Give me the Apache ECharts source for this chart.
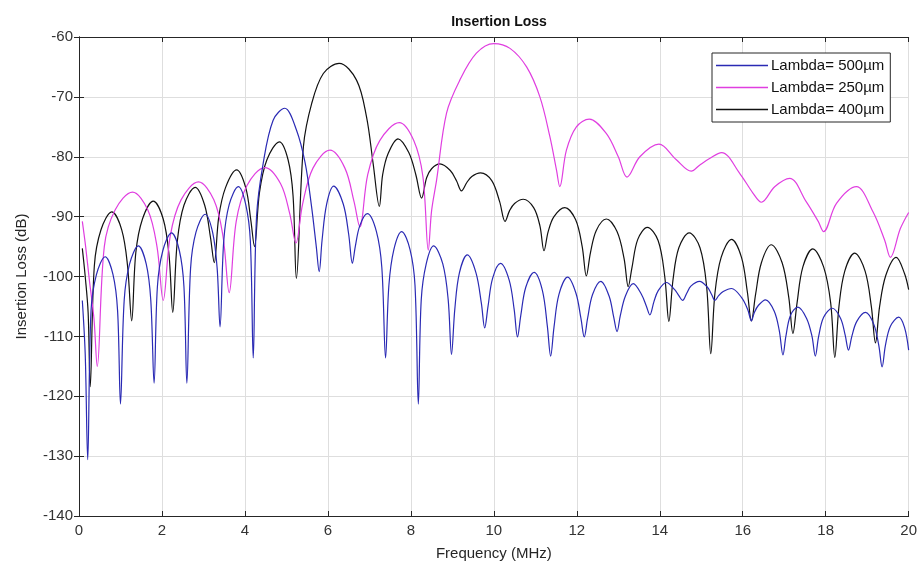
<!DOCTYPE html>
<html><head><meta charset="utf-8">
<script src="https://cdn.jsdelivr.net/npm/echarts@6/dist/echarts.min.js"></script>
<style>html,body{margin:0;padding:0;background:#fff}#c{width:920px;height:572px}</style>
</head><body><div id="c"></div>
<script>
// Frequency (MHz) / Insertion Loss (dB) readings, Lambda = 500um (blue)
var blueFreq = [0.08,0.15,0.21,0.29,0.42,0.63,0.82,0.93,1.00,1.09,1.22,1.43,1.62,1.73,1.81,1.89,2.02,2.23,2.42,2.53,2.60,2.69,2.82,3.04,3.22,3.33,3.40,3.49,3.62,3.84,4.02,4.13,4.20,4.28,4.44,4.68,4.96,5.24,5.45,5.60,5.72,5.79,5.86,5.97,6.14,6.37,6.50,6.59,6.66,6.77,6.95,7.17,7.30,7.39,7.47,7.59,7.78,7.98,8.10,8.18,8.25,8.37,8.55,8.77,8.90,8.98,9.06,9.17,9.36,9.57,9.70,9.78,9.86,9.97,10.16,10.37,10.49,10.57,10.65,10.77,10.97,11.17,11.29,11.37,11.45,11.57,11.78,11.98,12.10,12.18,12.26,12.38,12.58,12.78,12.89,12.97,13.05,13.17,13.36,13.56,13.68,13.76,13.86,13.96,14.16,14.36,14.46,14.55,14.65,14.75,14.96,15.15,15.25,15.33,15.42,15.53,15.73,15.97,16.12,16.21,16.28,16.38,16.55,16.76,16.88,16.97,17.04,17.15,17.33,17.54,17.67,17.75,17.83,17.95,18.16,18.36,18.47,18.55,18.63,18.75,18.96,19.16,19.28,19.36,19.44,19.56,19.76,19.90,20.0];
var blueLoss = [-104,-113,-130.6,-105.7,-99.7,-96.7,-99.7,-105.7,-121.3,-103.9,-97.9,-94.9,-97.9,-103.9,-117.8,-101.7,-95.7,-92.7,-95.7,-101.7,-117.8,-98.6,-92.6,-89.6,-92.6,-98.6,-108.4,-94.0,-88.0,-85.0,-88.0,-94.0,-113.6,-90,-81.1,-73.9,-71.9,-75.5,-81,-88,-95,-99.2,-93.9,-87.9,-84.9,-87.9,-92.9,-97.8,-95,-91.5,-89.5,-92.5,-98.5,-113.6,-101.5,-95.5,-92.5,-95.5,-101.5,-121.3,-103.9,-97.9,-94.9,-97.9,-103.9,-113.0,-105.4,-99.4,-96.4,-99.4,-104.5,-108.6,-105,-100.3,-97.8,-100.6,-105.5,-110.1,-106.5,-101.8,-99.3,-102.3,-108.3,-113.3,-108.5,-103,-100.1,-102.8,-107,-110.1,-107,-103,-100.8,-103.3,-106.8,-109.2,-106.5,-103.3,-101.2,-103,-105,-106.4,-104.2,-102.4,-101.0,-102.2,-103.2,-104.0,-102.8,-101.6,-100.8,-101.8,-103,-104.0,-103.2,-102.5,-102.0,-103.5,-105.5,-107.4,-106,-104.8,-103.9,-105.8,-109,-113.1,-110,-106.5,-105.1,-107,-110,-113.3,-110,-106.8,-105.3,-107,-109.8,-112.3,-110,-107.5,-106.0,-108,-111.5,-115.1,-111.5,-108.3,-106.8,-108.5,-112.3];

// Lambda = 250um (magenta)
var magentaFreq = [0.08,0.16,0.25,0.36,0.44,0.61,0.87,1.29,1.66,1.88,2.03,2.20,2.46,2.88,3.25,3.47,3.62,3.79,4.05,4.48,4.86,5.08,5.23,5.39,5.64,6.05,6.41,6.63,6.77,6.96,7.25,7.72,8.07,8.29,8.42,8.50,8.62,8.86,9.18,9.58,10.0,10.39,10.79,11.11,11.35,11.51,11.59,11.75,11.99,12.30,12.71,13.00,13.21,13.52,13.98,14.40,14.76,14.96,15.20,15.49,15.93,16.25,16.45,16.77,17.13,17.53,17.82,17.95,18.26,18.74,19.14,19.42,19.56,19.80,20.0];
var magentaLoss = [-90.8,-95,-100.6,-107,-115.0,-95,-88.9,-85.9,-88.9,-95,-104.0,-93.2,-87.2,-84.2,-87.2,-93.2,-102.7,-90.8,-84.8,-81.8,-84.5,-89.5,-94.4,-87.9,-81.9,-78.9,-81.9,-87.5,-91.7,-83,-77.3,-74.3,-77.3,-83.3,-95.6,-89,-83.9,-72.7,-67.2,-62.7,-61.1,-61.9,-65.0,-70.0,-76.6,-82.2,-85.0,-78.9,-75.0,-73.7,-76.1,-80.0,-83.4,-80.0,-77.9,-80.5,-82.4,-81.4,-80.3,-79.3,-82.8,-86.1,-87.6,-85.0,-83.6,-87.5,-90.8,-92.5,-87.8,-85.0,-89.2,-93.9,-96.8,-92,-89.3];

// Lambda = 400um (black)
var blackFreq = [0.08,0.15,0.22,0.27,0.37,0.53,0.79,1.03,1.17,1.27,1.37,1.53,1.79,2.03,2.17,2.26,2.37,2.53,2.80,3.03,3.17,3.26,3.37,3.53,3.80,4.02,4.14,4.23,4.35,4.53,4.83,5.04,5.16,5.24,5.41,5.61,5.89,6.27,6.69,6.93,7.09,7.24,7.32,7.45,7.69,7.95,8.12,8.26,8.38,8.50,8.70,8.95,9.10,9.22,9.35,9.47,9.68,9.95,10.14,10.27,10.38,10.50,10.71,10.96,11.11,11.21,11.31,11.45,11.71,11.97,12.13,12.23,12.33,12.47,12.71,12.97,13.14,13.24,13.33,13.47,13.70,13.96,14.12,14.22,14.32,14.46,14.71,14.97,15.13,15.23,15.33,15.48,15.73,15.97,16.11,16.21,16.31,16.45,16.69,16.95,17.11,17.21,17.31,17.45,17.69,17.95,18.12,18.22,18.32,18.46,18.70,18.95,19.10,19.20,19.30,19.45,19.70,19.90,20.0];
var blackLoss = [-95.3,-100,-106,-118.4,-98.2,-92.2,-89.2,-92.2,-98.2,-107.4,-96,-90.4,-87.4,-90.4,-96.4,-106.0,-94.1,-88.1,-85.1,-88.1,-93.5,-97.7,-90,-85.2,-82.2,-85.2,-90.5,-95,-86,-80.5,-77.5,-80.5,-86.5,-100.3,-78.3,-71.1,-66.1,-64.4,-67.2,-73.3,-81.1,-88.3,-83,-79.5,-77.0,-79.3,-83,-86.9,-83.5,-82,-81.2,-82.3,-84,-85.7,-84.3,-83.3,-82.7,-84,-87.5,-90.8,-89,-87.8,-87.1,-88.5,-91.5,-95.7,-92.5,-90,-88.5,-90.5,-95,-99.9,-96,-92.3,-90.4,-92.5,-97,-101.7,-98.5,-93.8,-91.8,-94,-100,-107.5,-100.5,-95.2,-92.7,-95.2,-101.7,-112.9,-102.8,-96.8,-93.8,-96.8,-102.5,-107.4,-103,-97.7,-94.7,-97.7,-103.5,-109.5,-104.4,-98.4,-95.4,-98.4,-104.4,-113.5,-105,-99.1,-96.1,-99.1,-105,-111.1,-105,-99.8,-96.8,-99.5,-102.2];

var seriesNames = ['Lambda= 500\u00b5m','Lambda= 250\u00b5m','Lambda= 400\u00b5m'];
var seriesColors = ['#2a2ab4','#e03ee0','#111111'];
var xTicks = {min:0, max:20, interval:2};
var yTicks = {min:-140, max:-60, interval:10};

function pairs(xs, ys){ return xs.map(function(x,i){ return [x, ys[i]]; }); }
var dataSets = [pairs(blueFreq, blueLoss), pairs(magentaFreq, magentaLoss), pairs(blackFreq, blackLoss)];

var FONT = '"Liberation Sans",Arial,sans-serif';
var axisLineStyle = {show:true, lineStyle:{color:'#262626', width:1}};
function axisBase(extra){
  return Object.assign({
    type:'value', axisLine:axisLineStyle,
    axisTick:{show:true, inside:true, length:5, lineStyle:{color:'#262626'}},
    splitLine:{show:false}
  }, extra);
}
var chart = echarts.init(document.getElementById('c'), null, {renderer:'canvas'});
chart.setOption({
  backgroundColor:'#ffffff',
  animation:false,
  title:{text:'Insertion Loss', left:494, top:10, textAlign:'center',
    textStyle:{fontFamily:FONT, fontSize:14, fontWeight:'bold', color:'#111'}},
  grid:{left:79, right:11, top:37, bottom:56, containLabel:false},
  legend:{
    data:seriesNames, orient:'vertical', left:712, top:53,
    icon:'rect', itemWidth:52, itemHeight:1.4, itemGap:7,
    padding:[5,6,5,4],
    borderColor:'#262626', borderWidth:1, backgroundColor:'#fff',
    textStyle:{fontFamily:FONT, fontSize:15, color:'#111', padding:[0,0,0,-2]}
  },
  xAxis:[
    axisBase({min:xTicks.min, max:xTicks.max, interval:xTicks.interval, position:'bottom',
      name:'Frequency (MHz)', nameLocation:'middle', nameGap:30,
      nameTextStyle:{fontFamily:FONT, fontSize:15, color:'#262626'},
      axisLabel:{fontFamily:FONT, fontSize:15, color:'#333', margin:7},
      splitLine:{show:true, lineStyle:{color:'#dedede', width:1}}}),
    axisBase({min:xTicks.min, max:xTicks.max, interval:xTicks.interval, position:'top',
      axisLabel:{show:false}})
  ],
  yAxis:[
    axisBase({min:yTicks.min, max:yTicks.max, interval:yTicks.interval, position:'left',
      name:'Insertion Loss (dB)', nameLocation:'middle', nameGap:50, nameRotate:90,
      nameTextStyle:{fontFamily:FONT, fontSize:15, color:'#262626'},
      axisLabel:{fontFamily:FONT, fontSize:15, color:'#333', margin:6},
      splitLine:{show:true, lineStyle:{color:'#dedede', width:1}}}),
    axisBase({min:yTicks.min, max:yTicks.max, interval:yTicks.interval, position:'right',
      axisLabel:{show:false}})
  ],
  series: dataSets.map(function(d,i){
    return {name:seriesNames[i], type:'line', data:d, xAxisIndex:0, yAxisIndex:0,
      symbol:'none', smooth:0.35, color:seriesColors[i],
      lineStyle:{color:seriesColors[i], width:1.2}, z:10-i};
  })
});
</script></body></html>
